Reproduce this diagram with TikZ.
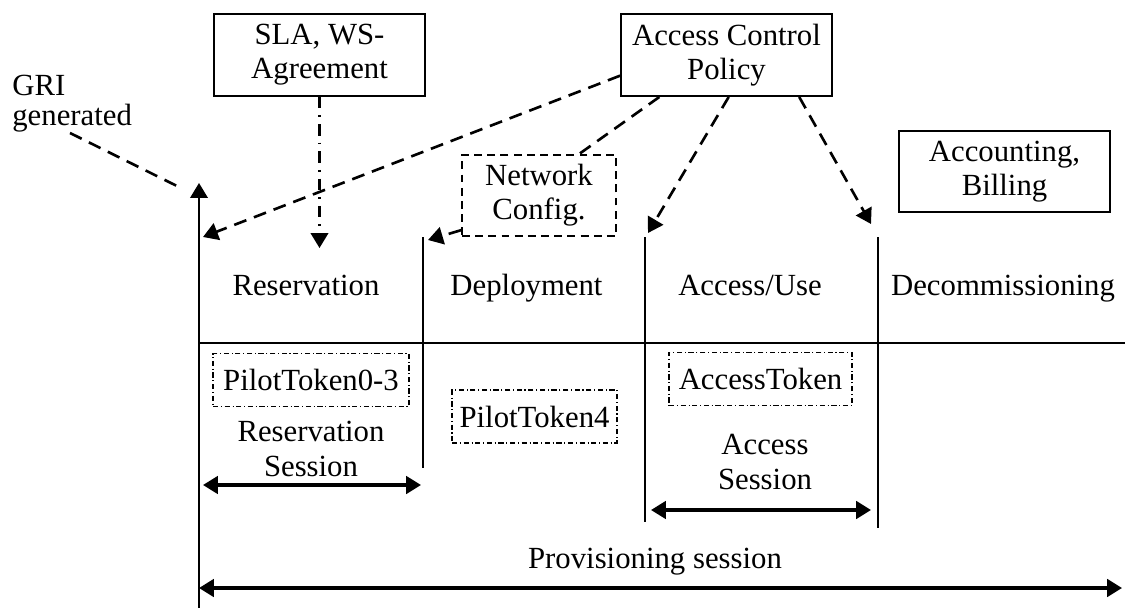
\documentclass[tikz,border=0pt]{standalone}
\usepackage{fontspec}
\setmainfont{Liberation Serif}
\usetikzlibrary{arrows.meta, positioning}
\tikzset{
  lifecycle/.style={
	>={Triangle[length=8.5pt, width=10pt]}, % filled arrow heads
	font=\fontsize{17.5}{19.5}\selectfont, % Times sized text
	every node/.style={align=center, inner sep=2pt}, % centred multi line labels
  },
  infobox/.style={draw, line width=1.1pt, minimum width=4.22cm, minimum height=1.64cm},
  configbox/.style={draw, line width=1pt, dash pattern=on 4.5pt off 3pt, minimum width=3.08cm, minimum height=1.62cm},
  tokenbox/.style={draw, line width=0.6pt, dash pattern=on 3pt off 1.5pt on 0.6pt off 1.5pt, minimum height=1.06cm},
  flow/.style={line width=1.5pt, dash pattern=on 7.4pt off 4.6pt}, % dashed links
  slaflow/.style={->, line width=1.2pt, dash pattern=on 6.5pt off 4pt on 1pt off 4pt},
  span/.style={<->, line width=1.8pt},
  phase/.style={line width=1pt},
  phasename/.style={anchor=base},
}

\begin{document}
\begin{tikzpicture}[lifecycle]
	  \useasboundingbox (0,0) rectangle (22.5,-12.16);
	  % boxes above the time line
	  \node[infobox] (sla) at (6.39,-1.1) {SLA, WS-\\Agreement};
	  \node[infobox] (acp) at (14.53,-1.1) {Access Control\\Policy};
	  \node[configbox] (nc) at (10.78,-3.91) {Network\\Config.};
	  \node[infobox, minimum height=1.62cm] (acc) at (20.09,-3.43) {Accounting,\\Billing};
	  \node[align=left, anchor=north west, inner sep=0pt, font=\fontsize{17.5}{17}\selectfont] (gri) at (0.24,-1.5) {GRI\\generated};
	  % time line and phase borders
	  \coordinate (t0) at (3.98,-3.66);
	  \coordinate (b0) at (3.98,-12.16);
	  \coordinate (t1) at (8.46,-4.75);
	  \coordinate (b1) at (8.46,-9.36);
	  \coordinate (t2) at (12.9,-4.75);
	  \coordinate (b2) at (12.9,-10.44);
	  \coordinate (t3) at (17.56,-4.75);
	  \coordinate (b3) at (17.56,-10.56);
	  \coordinate (hr) at (22.5,-6.86);
	  \draw[phase, <-] (t0) -- (b0);
	  \draw[phase] (t1) -- (b1) (t2) -- (b2) (t3) -- (b3);
	  \draw[line width=1.5pt] (t0 |- hr) -- (hr);
	  % phases
	  \node[phasename] (resv) at (6.12,-5.9) {Reservation};
	  \node[phasename] (depl) at (10.53,-5.9) {Deployment};
	  \node[phasename] (use) at (15.0,-5.9) {Access/Use};
	  \node[phasename] (decom) at (20.06,-5.9) {Decommissioning};
	  % tokens and sessions
	  \node[tokenbox, minimum width=3.92cm] (pt03) at (6.22,-7.6) {PilotToken0-3};
	  \node[tokenbox, minimum width=3.3cm] (pt4) at (10.69,-8.33) {PilotToken4};
	  \node[tokenbox, minimum width=3.66cm] (atok) at (15.21,-7.58) {AccessToken};
	  \node (rsess) at (6.22,-8.98) {Reservation\\Session};
	  \node (asess) at (15.3,-9.24) {Access\\Session};
	  \node (psess) at (13.1,-11.24) {Provisioning session};
	  \coordinate (rs1) at (4.06,-9.7);
	  \coordinate (rs2) at (8.42,-9.7);
	  \coordinate (as1) at (13.02,-10.2);
	  \coordinate (as2) at (17.42,-10.2);
	  \coordinate (ps1) at (3.98,-11.76);
	  \coordinate (ps2) at (22.44,-11.76);
	  \draw[span] (rs1) -- (rs2);
	  \draw[span] (as1) -- (as2);
	  \draw[span] (ps1) -- (ps2);
	  % policy links
	  \coordinate (gri0) at (1.4,-2.66);
	  \coordinate (gri1) at (3.58,-3.74);
	  \coordinate (resvin) at (4.06,-4.74);
	  \coordinate (deplin) at (8.56,-4.8);
	  \coordinate (usein) at (12.96,-4.66);
	  \coordinate (decomin) at (17.42,-4.48);
	  \draw[flow] (gri0) -- (gri1);
	  \draw[slaflow] (sla.south) -- (sla.south |- 0,-4.96);
	  \draw[flow, ->] (acp.191) -- (resvin);
	  \draw[flow] (acp.212) -- (nc.46);
	  \draw[flow, ->] (nc.204) -- (deplin);
	  \draw[flow, ->] (acp.273) -- (usein);
	  \draw[flow, ->] (acp.330) -- (decomin);
\end{tikzpicture}
\end{document}
